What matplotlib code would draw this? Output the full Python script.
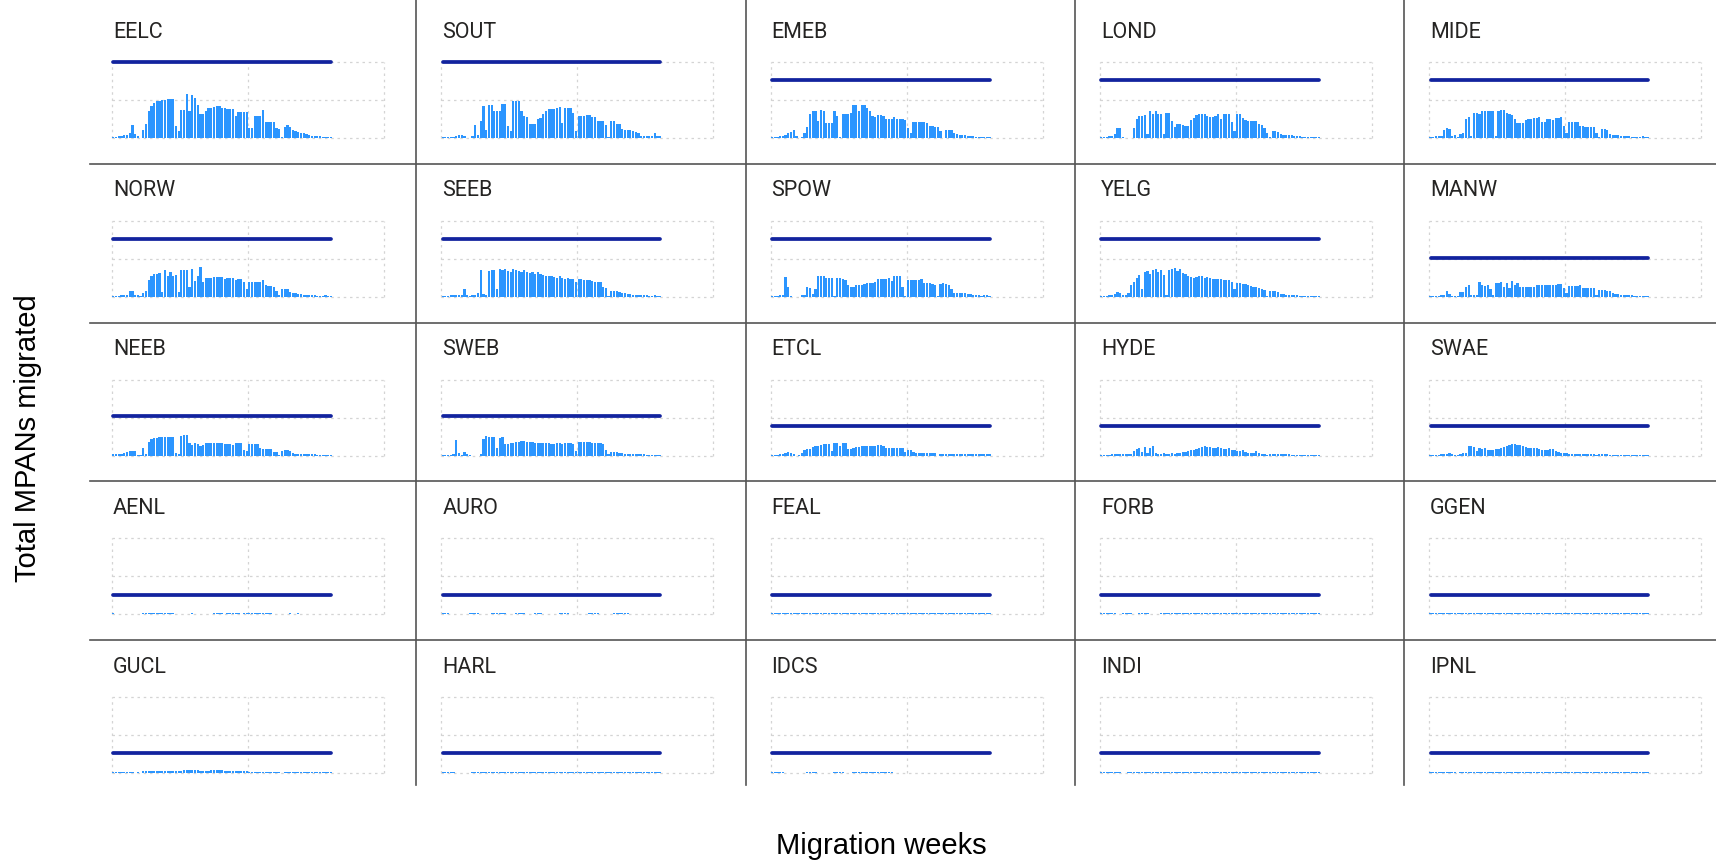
import numpy as np
import matplotlib
matplotlib.use("Agg")
import matplotlib.pyplot as plt
from matplotlib.lines import Line2D

# ---------------- data ----------------
PANELS = ["EELC", "SOUT", "EMEB", "LOND", "MIDE",
          "NORW", "SEEB", "SPOW", "YELG", "MANW",
          "NEEB", "SWEB", "ETCL", "HYDE", "SWAE",
          "AENL", "AURO", "FEAL", "FORB", "GGEN",
          "GUCL", "HARL", "IDCS", "INDI", "IPNL"]

# reference line value per panel (same units as bars)
LINE_VALUES = [200, 200, 152, 152, 152,
               153, 153, 153, 153, 102,
               103, 103, 77, 77, 77,
               52, 52, 52, 52, 52,
               52, 52, 52, 52, 52]

EELC = [3,3,4,5,7,9,12,34,10,4, 1,22,36,72,85,93,97,98,100,101, 102,103,103,31,18,73,73,116,70,113,
        106,88,64,64,72,79,80,82,84,85, 80,78,76,76,76,58,69,69,69,68, 27,27,58,58,58,73,43,43,42,41,
        27,25,2,30,33,30,22,18,16,14, 12,10,8,6,5,4,4,3,3,3, 3]
SOUT = [2,2,2,3,3,5,7,8,6,1, 0,5,34,9,45,85,22,87,87,71, 71,71,89,89,31,18,98,98,98,71,
        58,54,36,36,38,49,52,62,70,76, 76,77,78,82,40,79,79,79,65,18, 58,58,58,60,60,56,56,46,46,46,
        33,2,45,45,36,36,24,22,22,20, 18,15,12,4,4,4,4,4,12,4, 4]
EMEB = [3,3,3,4,4,8,12,17,20,6, 1,2,13,28,62,70,71,45,73,71, 40,40,40,71,58,2,64,64,64,66,
        87,87,70,86,86,78,72,57,55,60, 60,59,50,49,49,56,49,49,49,47, 27,13,42,42,42,42,41,40,32,31,
        30,30,18,1,22,22,20,12,10,9, 8,7,6,5,4,3,3,2,3,2, 2]
LOND = [2,3,3,4,4,10,26,27,3,0, 0,0,26,50,58,58,60,10,71,64, 70,62,62,10,67,67,45,28,36,36,
        34,31,31,47,53,60,62,63,62,58, 55,55,57,62,49,62,64,62,42,18, 62,62,52,48,46,46,45,45,36,35,
        27,12,2,18,18,15,10,9,8,7, 7,6,5,4,3,3,3,2,3,3, 2]
MIDE = [3,3,4,5,6,20,27,25,4,8, 2,10,12,50,55,6,67,67,62,70, 70,70,70,71,4,70,73,73,66,62,
        60,50,40,40,40,48,49,50,52,53, 54,42,43,49,49,48,52,53,54,31, 12,43,43,43,42,32,31,30,30,29,
        28,12,2,24,25,22,10,9,8,7, 6,5,4,4,3,3,3,2,4,2, 2]
NORW = [3,3,3,4,4,5,14,15,6,4, 1,11,14,43,56,60,61,62,12,70, 56,65,56,58,12,71,71,71,25,74,
        42,56,79,38,50,50,50,52,52,51, 52,48,50,50,50,44,47,47,38,20, 38,38,38,38,38,45,30,29,29,25,
        14,4,20,21,20,12,11,10,8,7, 6,6,5,5,4,3,3,3,4,3, 3]
SEEB = [3,3,3,4,4,4,5,5,20,4, 2,4,6,10,70,8,6,68,70,70, 20,72,70,74,68,66,74,70,68,64,
        70,66,62,64,60,66,60,58,56,54, 56,52,50,54,50,46,50,48,46,40, 48,46,45,44,44,42,40,40,38,26,
        24,2,16,16,15,12,10,9,8,7, 6,6,5,5,4,4,3,3,4,3, 3]
SPOW = [3,3,3,4,4,52,25,3,0,0, 0,4,5,27,23,7,20,56,56,56, 50,50,50,3,50,50,46,44,30,27,
        27,30,30,30,35,36,36,37,40,46, 47,47,48,50,42,56,56,56,25,3, 44,45,45,45,45,47,37,36,36,35,
        30,2,35,37,33,30,20,11,11,10, 10,9,8,7,5,4,4,3,5,4, 3]
YELG = [3,3,3,4,5,8,12,10,4,6, 10,30,40,50,58,20,66,68,60,70, 72,66,70,58,5,70,74,76,68,72,
        62,60,55,52,50,52,54,55,50,52, 50,46,48,48,46,44,45,44,40,20, 36,36,35,34,30,28,26,25,22,20,
        18,3,14,15,14,12,8,7,6,6, 5,4,4,3,3,3,2,2,3,2, 2]
MANW = [3,3,3,3,4,5,16,8,3,3, 2,13,13,25,30,4,6,6,38,32, 28,32,20,5,36,36,38,25,36,23,
        42,32,36,27,26,27,26,26,27,32, 32,30,31,31,31,30,30,34,34,23, 10,28,28,28,29,31,23,23,23,22,
        22,4,18,18,18,15,14,9,8,7, 6,5,5,4,4,3,3,3,3,3, 3]
NEEB = [3,3,3,4,8,10,11,12,12,2, 2,20,4,36,45,46,47,48,49,50, 50,50,50,8,3,52,54,55,33,27,
        33,30,25,27,32,32,32,33,33,33, 33,30,31,31,27,33,33,33,16,12, 30,30,30,30,20,18,18,17,17,10,
        10,2,13,14,14,13,6,5,5,5, 4,3,3,3,3,2,2,2,2,2, 2]
SWEB = [2,2,2,2,3,42,8,2,10,5, 2,0,0,0,4,45,52,50,50,48, 20,46,48,30,30,32,34,36,36,38,
        38,37,36,36,34,34,33,33,32,32, 30,30,34,32,30,32,32,33,30,12, 36,36,36,35,35,34,34,34,34,30,
        14,4,10,10,9,8,6,5,5,4, 4,3,3,3,3,2,2,2,2,2, 2]
ETCL = [2,2,2,3,3,8,10,8,3,0, 1,6,16,18,18,23,25,25,29,30, 30,31,11,33,33,26,32,33,18,17,
        20,22,23,24,24,25,24,25,24,27, 27,25,21,20,21,19,20,20,20,9, 15,14,10,7,7,7,7,6,7,6,
        7,0,4,5,5,4,4,4,4,4, 4,4,4,4,3,3,3,3,4,3, 3]
HYDE = [2,2,2,2,3,3,4,5,5,4, 3,4,12,18,20,10,22,8,20,24, 6,5,5,6,5,4,6,5,6,8,
        10,10,12,14,16,18,20,22,24,22, 22,20,21,22,20,18,18,20,16,14, 12,12,14,10,8,8,7,12,6,5,
        4,2,4,4,4,3,3,3,3,3, 2,2,2,2,2,2,2,2,2,2, 2]
SWAE = [2,2,2,2,3,3,4,6,3,2, 2,4,6,8,24,26,22,12,20,18, 20,16,15,16,18,18,20,22,26,28,
        30,30,28,27,24,22,20,20,21,20, 18,15,14,16,18,17,12,10,8,6, 6,5,5,5,4,4,4,4,3,3,
        3,2,3,3,3,3,2,2,2,2, 2,2,2,2,2,2,2,2,2,2, 2]
AENL = [3,0,0,0,0,0,0,0,0,0, 0,4,4,4,4,4,4,4,4,4, 4,4,4,0,0,0,0,0,0,3,
        0,0,0,0,0,0,0,3,3,3, 3,0,3,3,3,3,3,0,4,4, 4,4,4,4,4,4,4,4,4,0,
        0,0,0,0,0,3,0,0,3,0, 0,0,0,0,0,0,0,0,0,0, 0]
AURO = [3,3,3,0,0,0,0,0,0,0, 3,3,3,3,0,0,0,0,3,3, 3,3,3,3,0,0,0,3,3,3, 3,0,0,0,3,3,3,0,0,0,
        0,0,0,3,3,3,3,0,0,0, 0,0,0,0,3,3,3,3,0,0, 0,0,0,3,3,3,3,3,3,0, 0,0,0,0,0,0,0,0,0,0, 0]
FEAL = [3,3,3,3,3,3,3,3,3,3, 3,3,4,4,4,4,4,4,4,4, 4,4,4,4,4,4,4,4,4,4,
        4,4,4,4,4,4,4,4,4,4, 4,4,4,4,4,4,4,4,4,4,
        4,4,4,4,4,4,4,4,4,4, 3,3,3,3,3,3,3,3,3,3, 3,3,3,3,3,3,3,3,3,3, 3]
FORB = [3,3,3,3,3,3,0,0,3,3, 3,3,0,0,3,3,3,3,0,0, 0,0,3,3,3,3,3,3,3,3, 3,3,3,3,3,3,3,3,3,3,
        3,3,3,3,3,3,3,3,3,3, 3,3,3,3,3,3,3,3,3,3, 3,3,3,3,3,3,3,3,3,3, 3,3,3,3,3,3,3,3,3,3, 3]
GGEN = [3,3,3,3,3,3,3,3,3,3, 3,3,3,3,3,3,3,3,3,3, 3,3,3,3,3,3,3,3,3,3, 3,3,3,3,3,3,3,3,3,3,
        3,3,3,3,3,3,3,3,3,3, 3,3,3,3,3,3,3,3,3,3, 3,3,3,3,3,3,3,3,3,3, 3,3,3,3,3,3,3,3,3,3, 3]
GUCL = [3,3,3,3,3,3,3,3,0,3, 0,5,5,5,5,5,5,5,7,7, 7,7,7,7,5,5,8,8,8,8,
        8,8,6,6,6,6,9,9,9,9, 9,5,5,5,5,5,5,5,5,5, 3,3,3,3,3,3,3,3,3,3,
        3,3,0,3,3,3,3,3,3,3, 3,3,3,3,3,3,3,3,3,3, 3]
HARL = [3,3,3,3,3,0,0,0,0,0, 0,3,3,3,3,3,3,3,3,3, 3,3,3,3,3,3,3,3,3,3, 3,3,3,3,3,3,3,3,3,3,
        3,3,3,3,3,3,3,3,3,3, 3,3,3,3,3,3,3,3,3,3, 3,3,3,3,3,3,3,3,3,3, 3,3,3,3,3,3,3,3,3,3, 3]
IDCS = [3,3,3,3,3,0,0,0,0,0, 0,0,0,3,3,3,3,0,0,0, 0,0,0,3,3,3,3,0,0,0, 3,3,3,3,3,3,3,3,3,3,
        3,3,3,3,3,0,0,0,0,0, 0,0,0,0,0,0,0,0,0,0, 0,0,0,0,0,0,0,0,0,0, 0,0,0,0,0,0,0,0,0,0, 0]
INDI = [3,3,3,3,3,3,3,3,0,0, 3,3,3,3,3,3,3,3,3,3, 3,3,3,3,3,3,3,3,3,3, 3,3,3,3,3,3,3,3,3,3,
        3,3,3,3,3,3,3,3,3,3, 3,3,3,3,3,3,3,3,3,3, 3,3,3,3,3,3,3,3,3,3, 3,3,3,3,3,3,3,3,3,3, 3]
IPNL = [3,3,3,3,3,3,3,3,3,3, 0,3,3,3,3,3,3,3,3,3, 3,3,3,3,3,3,3,3,3,3, 3,3,3,3,3,3,3,3,3,3,
        3,3,3,3,3,3,3,3,3,3, 3,3,3,3,3,3,3,3,3,3, 3,3,3,3,3,3,3,3,3,3, 3,3,3,3,3,3,3,3,3,3, 3]

SERIES = [EELC, SOUT, EMEB, LOND, MIDE,
          NORW, SEEB, SPOW, YELG, MANW,
          NEEB, SWEB, ETCL, HYDE, SWAE,
          AENL, AURO, FEAL, FORB, GGEN,
          GUCL, HARL, IDCS, INDI, IPNL]

Y_MAX = 200
Y_TICKS = [0, 100, 200]
X_MAX = 100
X_TICKS = [0, 50, 100]

X_LABEL = "Migration weeks"
Y_LABEL = "Total MPANs migrated"

# ---------------- style / layout ----------------
W, H = 1716, 865
BAR_COLOR = "#2B95FF"
LINE_COLOR = "#12239E"
GRID_COLOR = "#D4D4D4"
SEP_COLOR = "#555555"
TITLE_COLOR = "#252423"

COL_X0, COL_W = 87, 329.3
ROW_Y0, ROW_H = 5, 158.8
AX_DX, AX_W = 25, 272
AX_DY, AX_H = 57, 76

fig = plt.figure(figsize=(W / 100, H / 100), dpi=100)


def fx(px):
    return px / W


def fy(py):
    return 1 - py / H


for k, name in enumerate(PANELS):
    r, c = divmod(k, 5)
    pl = COL_X0 + c * COL_W
    pt = ROW_Y0 + r * ROW_H
    ax = fig.add_axes([fx(pl + AX_DX), fy(pt + AX_DY + AX_H), AX_W / W, AX_H / H])
    vals = np.asarray(SERIES[k], dtype=float)
    weeks = np.arange(len(vals)) + 0.5
    ax.bar(weeks, vals, width=0.82, color=BAR_COLOR, linewidth=0, zorder=2)
    ax.plot(weeks, np.full(len(vals), LINE_VALUES[k]), color=LINE_COLOR, lw=2.7,
            solid_capstyle="round", zorder=3, clip_on=False)
    ax.set_xlim(0, X_MAX)
    ax.set_ylim(0, Y_MAX)
    ax.set_xticks(X_TICKS)
    ax.set_yticks(Y_TICKS)
    ax.tick_params(length=0, labelbottom=False, labelleft=False)
    for s in ax.spines.values():
        s.set_visible(False)
    ax.grid(True, color=GRID_COLOR, linestyle=(0, (2, 3)), linewidth=0.9, zorder=0)
    ax.set_axisbelow(True)
    for gl in ax.get_xgridlines() + ax.get_ygridlines():
        gl.set_clip_on(False)
    ax.patch.set_alpha(0)
    fig.text(fx(pl + 26), fy(pt + 27), name, fontsize=15.5, family="Roboto",
             color=TITLE_COLOR, ha="left", va="center")

# separators
for c in range(1, 5):
    x = COL_X0 + c * COL_W
    fig.add_artist(Line2D([fx(x), fx(x)], [fy(0), fy(785)], color=SEP_COLOR, lw=1.2))
for r in range(1, 5):
    y = ROW_Y0 + r * ROW_H
    fig.add_artist(Line2D([fx(90), fx(W)], [fy(y), fy(y)], color=SEP_COLOR, lw=1.2))

fig.text(fx(28), fy(438), Y_LABEL, rotation=90, fontsize=21, family="Liberation Sans",
         color="#000000", ha="center", va="center")
fig.text(fx(881), fy(846), X_LABEL, fontsize=21, family="Liberation Sans",
         color="#000000", ha="center", va="center")

fig.savefig("out.png", dpi=100)
